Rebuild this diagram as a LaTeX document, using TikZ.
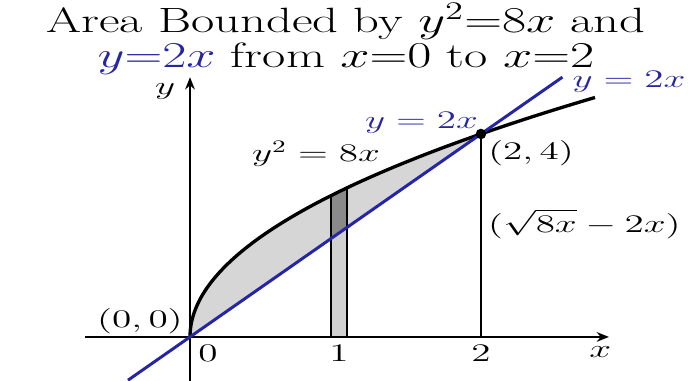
\documentclass[tikz,border=0pt]{standalone}
\usepackage{tikz}
\usepackage{graphicx}
\usetikzlibrary{arrows.meta,positioning}
\definecolor{LineBlue}{RGB}{38,38,165}
\definecolor{AreaGray}{RGB}{214,214,214}
\definecolor{StripLight}{RGB}{208,208,208}
\definecolor{StripDark}{RGB}{138,138,138}
% wide label text, as in the reference
\newcommand{\widelbl}[1]{\scalebox{1.55}[1]{#1}}
\newcommand{\widetitle}[1]{\scalebox{1.44}[1]{#1}}

\begin{document}
\begin{tikzpicture}[x=2.91cm, y=1.015cm, font=\fontsize{14}{16}\selectfont,
    axis/.style={-{Stealth[length=7pt, width=5.5pt]}, line width=1.1pt},
    curve/.style={black, line width=1.9pt},
    edge/.style={black, line width=1.1pt},
    title/.style={font=\fontsize{20}{24}\selectfont, anchor=base, inner sep=0pt}]
    \useasboundingbox (-1.306,-0.867) rectangle (3.423,6.640);

    % Strip around x = 1
    \def\xa{0.97}
    \def\xb{1.08}

    % Shaded area between parabola and line
    \fill[AreaGray] plot[domain=0:4, samples=60] ({\x*\x/8}, \x) -- cycle;

    % Strip: below the line light, between line and curve dark
    \fill[StripLight] (\xa,0) -- (\xb,0) -- (\xb,{2*\xb}) -- (\xa,{2*\xa}) -- cycle;
    \fill[StripDark] (\xa,{2*\xa}) -- (\xb,{2*\xb}) -- (\xb,{sqrt(8*\xb)}) -- (\xa,{sqrt(8*\xa)}) -- cycle;
    \draw[edge] (\xa,0) -- (\xa,{sqrt(8*\xa)});
    \draw[edge] (\xb,0) -- (\xb,{sqrt(8*\xb)});

    % Axes
    \coordinate (xstart) at (-0.72,0);
    \coordinate (xend) at (2.88,0);
    \coordinate (ystart) at (0,-0.867);
    \coordinate (yend) at (0,5.12);
    \draw[axis] (xstart) -- (xend);
    \draw[axis] (ystart) -- (yend);

    % Vertical line at x = 2
    \coordinate (foot) at (2,0);
    \coordinate (P) at (2,4);
    \draw[edge] (foot) -- (P);

    % Parabola y^2 = 8x
    \draw[curve] plot[domain=0:4.72, samples=80] ({\x*\x/8}, \x);

    % Line y = 2x
    \coordinate (lstart) at (-0.426,-0.852);
    \coordinate (lend) at (2.56,5.12);
    \draw[LineBlue, line width=1.7pt] (lstart) -- (lend);
    \node[circle, fill=black, inner sep=0pt, minimum size=6pt] (dot) at (P) {};

    % Tick labels
    \foreach \t/\px in {0/0.124, 1/1.024, 2/2.0} {
        \node (tick\t) at (\px,-0.315) {\widelbl{$\t$}};
    }

    % Axis labels
    \node (xlabel) at (2.82,-0.30) {\widelbl{$x$}};
    \node[inner sep=0pt] (ylabel) at (-0.17,4.84) {\widelbl{$y$}};

    % Point labels
    \node (origin) at (-0.344,0.315) {\widelbl{$(0,0)$}};
    \node (pointlabel) at (2.344,3.63) {\widelbl{$(2,4)$}};
    \node (height) at (2.711,2.23) {\widelbl{$(\sqrt{8x}-2x)$}};

    % Curve labels
    \node (parab) at (0.866,3.61) {\widelbl{$y^2 = 8x$}};
    \node[LineBlue] (linemid) at (1.591,4.22) {\widelbl{$y = 2x$}};
    \node[LineBlue] (linetop) at (3.017,5.03) {\widelbl{$y = 2x$}};

    % Title
    \node[title] (title1) at (1.072,5.99) {\widetitle{Area Bounded by $y^2{=}8x$ and}};
    \node[title] (title2) at (1.072,5.30) {\widetitle{\textcolor{LineBlue}{$y{=}2x$} from $x{=}0$ to $x{=}2$}};
\end{tikzpicture}
\end{document}
